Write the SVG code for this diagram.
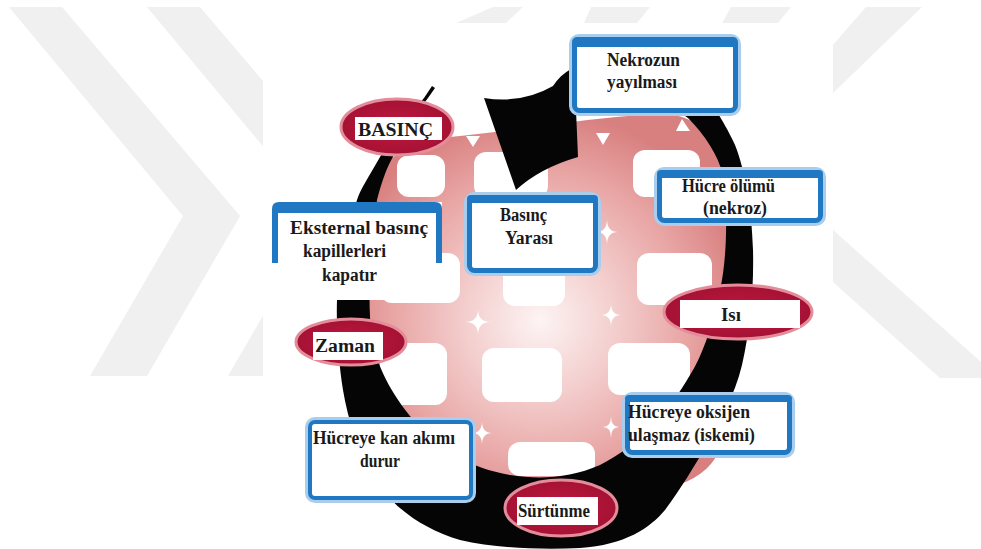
<svg xmlns="http://www.w3.org/2000/svg" width="981" height="549" viewBox="0 0 981 549">
<defs>
<radialGradient id="meshGrad" gradientUnits="userSpaceOnUse" cx="540" cy="320" r="210">
<stop offset="0" stop-color="#fdf4f4"/>
<stop offset="0.35" stop-color="#f3cfce"/>
<stop offset="0.7" stop-color="#e8a6a5"/>
<stop offset="1" stop-color="#d87f7f"/>
</radialGradient>
<radialGradient id="ellGrad" cx="0.5" cy="0.5" r="0.5">
<stop offset="0" stop-color="#c2173f"/>
<stop offset="1" stop-color="#a41234"/>
</radialGradient>
<style>
.wm{fill:#f0f0f0;}
.hole{fill:#ffffff;}
.star{fill:#ffffff;}
.halo{fill:none;stroke:#a9cdec;stroke-width:8;}
.box{fill:#ffffff;stroke:#1f78c1;stroke-width:5;}
.bar{fill:#1f78c1;}
.ell{fill:url(#ellGrad);stroke:#e48c9a;stroke-width:3;}
.lab{fill:#ffffff;}
.t{font-family:"Liberation Serif","Times New Roman",serif;font-weight:bold;font-size:18.5px;fill:#1a1a1a;}
</style>
</defs>

<g id="watermark">
<polygon class="wm" points="9,7 62,7 240,216 147,376 90,376 183,216"/>
<polygon class="wm" points="147,7 200,7 378,216 285,376 228,376 321,216"/>
<polygon class="wm" points="493,7 523,7 506,23 456,23"/>
<polygon class="wm" points="591,7 650,7 637,23 584,23"/>
<polygon class="wm" points="731,7 791,7 778,23 722,23"/>
<polygon class="wm" points="866,7 922,7 833,93 833,45"/>
<polygon class="wm" points="833,230 981,362 981,378 940,378 833,282"/>
<rect x="263" y="23" width="570" height="526" fill="#ffffff"/>
</g>

<g id="mesh">
<path d="M 450,137 C 520,130 600,116 660,114 C 700,113 722,140 728,200 L 728,410 C 728,460 700,490 640,490 L 450,490 C 400,490 366,460 366,410 L 366,220 C 366,170 400,140 450,137 Z" fill="url(#meshGrad)"/>
<rect class="hole" x="397" y="155" width="48" height="42" rx="12"/>
<rect class="hole" x="474" y="152" width="74" height="46" rx="12"/>
<rect class="hole" x="633" y="150" width="67" height="47" rx="12"/>
<rect class="hole" x="380" y="253" width="80" height="50" rx="12"/>
<rect class="hole" x="503" y="262" width="62" height="44" rx="12"/>
<rect class="hole" x="637" y="253" width="75" height="52" rx="12"/>
<rect class="hole" x="380" y="343" width="67" height="62" rx="12"/>
<rect class="hole" x="482" y="348" width="80" height="54" rx="12"/>
<rect class="hole" x="608" y="343" width="82" height="52" rx="12"/>
<rect class="hole" x="508" y="442" width="87" height="34" rx="12"/>
<path class="star" d="M 478,309 Q 478,322 491,322 Q 478,322 478,335 Q 478,322 465,322 Q 478,322 478,309 Z"/>
<path class="star" d="M 607,219 Q 607,232 618,232 Q 607,232 607,245 Q 607,232 596,232 Q 607,232 607,219 Z"/>
<path class="star" d="M 611,303 Q 611,315 621,315 Q 611,315 611,327 Q 611,315 601,315 Q 611,315 611,303 Z"/>
<path class="star" d="M 482,421 Q 482,433 492,433 Q 482,433 482,445 Q 482,433 472,433 Q 482,433 482,421 Z"/>
<path class="star" d="M 611,416 Q 611,427 619,427 Q 611,427 611,438 Q 611,427 603,427 Q 611,427 611,416 Z"/>
<path class="star" d="M 596,133 L 610,133 L 603,145 Z"/>
<path class="star" d="M 682,119 L 690,131 L 676,131 Z"/>
<path class="star" d="M 466,136 L 480,136 L 473,147 Z"/>
</g>

<g id="connectors">
<path id="cycle-arrow" fill="#050505" d="M 432,86 L 424,98 C 405,120 390,140 380,157 C 368,178 360,190 357,200 C 345,235 338,270 337,300 C 336,330 339,365 343,390 C 348,420 358,450 372,475 C 390,505 420,528 460,540 C 495,548 540,550 580,548 C 625,545 650,528 665,510 C 680,490 695,465 705,448 C 718,425 735,395 742,365 C 750,330 754,290 753,250 C 752,210 745,170 735,145 C 728,130 722,120 717,112 C 690,70 640,58 600,60 C 578,62 562,72 553,86 Q 522,104 484,98 L 516,190 Q 540,168 578,157 L 576,110 C 620,98 668,102 688,118 C 705,135 718,155 723,175 C 728,210 727,260 720,290 C 712,330 700,360 690,375 C 670,410 640,445 600,465 C 570,478 540,480 510,475 C 470,468 440,450 418,425 C 395,400 378,370 372,340 C 367,300 370,250 377,200 C 382,180 388,165 393,157 C 403,135 415,115 428,98 L 435,88 Z"/>
</g>

<g id="node-nekrozun">
<rect class="halo" x="573" y="38" width="164" height="74" rx="6"/>
<rect class="box" x="574.5" y="39.5" width="161" height="71" rx="5"/>
<rect class="bar" x="572" y="37" width="166" height="10" rx="5"/>
<text class="t" x="607" y="66" textLength="73" lengthAdjust="spacingAndGlyphs">Nekrozun</text>
<text class="t" x="607" y="88" textLength="70" lengthAdjust="spacingAndGlyphs">yayılması</text>
</g>

<g id="node-hucre-olumu">
<rect class="halo" x="658" y="171" width="164" height="51" rx="6"/>
<rect class="box" x="659.5" y="172.5" width="161" height="48" rx="5"/>
<rect class="bar" x="657" y="170" width="166" height="8" rx="4"/>
<text class="t" x="682" y="192" textLength="93" lengthAdjust="spacingAndGlyphs">Hücre ölümü</text>
<text class="t" x="703" y="214" textLength="64" lengthAdjust="spacingAndGlyphs">(nekroz)</text>
</g>

<g id="node-basinc-yarasi">
<rect class="halo" x="468" y="196" width="129" height="76" rx="6"/>
<rect class="box" x="469.5" y="197.5" width="126" height="73" rx="5"/>
<rect class="bar" x="467" y="195" width="131" height="8" rx="4"/>
<text class="t" x="500" y="221" textLength="47" lengthAdjust="spacingAndGlyphs">Basınç</text>
<text class="t" x="505" y="244" textLength="48" lengthAdjust="spacingAndGlyphs">Yarası</text>
</g>

<g id="node-eksternal">
<rect x="272" y="202" width="170" height="98" fill="#ffffff"/>
<path class="bar" d="M 272,263 L 272,209 Q 272,202 279,202 L 435,202 Q 442,202 442,209 L 442,263 L 436,263 L 436,213 L 278,213 L 278,263 Z"/>
<text class="t" x="290" y="234" textLength="138" lengthAdjust="spacingAndGlyphs">Eksternal basınç</text>
<text class="t" x="303" y="257" textLength="83" lengthAdjust="spacingAndGlyphs">kapillerleri</text>
<text class="t" x="322" y="281" textLength="55" lengthAdjust="spacingAndGlyphs">kapatır</text>
</g>

<g id="node-kan-akimi">
<rect class="halo" x="309" y="421" width="163" height="78" rx="6"/>
<rect class="box" x="310" y="422" width="161" height="76" rx="5" style="stroke-width:4"/>
<text class="t" x="313" y="444" textLength="142" lengthAdjust="spacingAndGlyphs">Hücreye kan akımı</text>
<text class="t" x="360" y="467" textLength="40" lengthAdjust="spacingAndGlyphs">durur</text>
</g>

<g id="node-oksijen">
<rect class="halo" x="626" y="396" width="165" height="58" rx="6"/>
<rect class="box" x="627.5" y="397.5" width="162" height="55" rx="5"/>
<rect class="bar" x="625" y="395" width="167" height="7" rx="4"/>
<text class="t" x="628" y="418" textLength="122" lengthAdjust="spacingAndGlyphs">Hücreye oksijen</text>
<text class="t" x="628" y="441" textLength="127" lengthAdjust="spacingAndGlyphs">ulaşmaz (iskemi)</text>
</g>

<g id="node-basinc">
<ellipse class="ell" cx="397" cy="127" rx="56" ry="28"/>
<rect class="lab" x="355" y="117" width="87" height="23"/>
<text class="t" x="358" y="136" textLength="75" lengthAdjust="spacingAndGlyphs">BASINÇ</text>
</g>

<g id="node-zaman">
<ellipse class="ell" cx="351" cy="342" rx="55" ry="23"/>
<rect class="lab" x="313" y="332" width="70" height="28"/>
<text class="t" x="315" y="352" textLength="60" lengthAdjust="spacingAndGlyphs">Zaman</text>
</g>

<g id="node-isi">
<ellipse class="ell" cx="738" cy="312" rx="74" ry="27"/>
<rect class="lab" x="680" y="300" width="120" height="28"/>
<text class="t" x="721" y="321" textLength="20" lengthAdjust="spacingAndGlyphs">Isı</text>
</g>

<g id="node-surtunme">
<ellipse class="ell" cx="561" cy="508" rx="56" ry="28"/>
<rect class="lab" x="517" y="497" width="81" height="28"/>
<text class="t" x="518" y="517" textLength="72" lengthAdjust="spacingAndGlyphs">Sürtünme</text>
</g>
</svg>
